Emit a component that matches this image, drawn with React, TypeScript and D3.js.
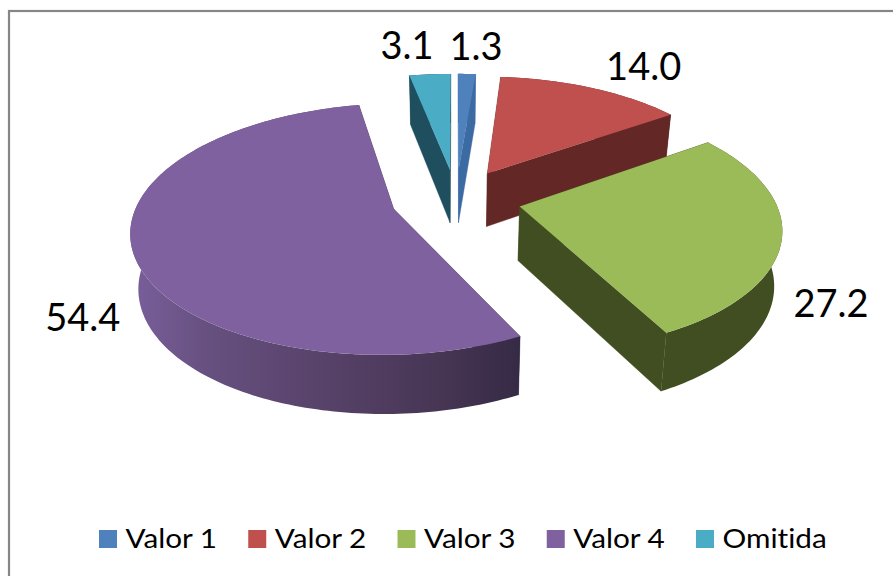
import React from "react";
import * as d3 from "d3";

const categories = ["Valor 1", "Valor 2", "Valor 3", "Valor 4", "Omitida"];
const values = [1.3, 14.0, 27.2, 54.4, 3.1];
const labels = ["1.3", "14.0", "27.2", "54.4", "3.1"];
const topColors = ["#4f81bd", "#c0504d", "#9bbb59", "#7f619f", "#4bacc6"];
const sideColors = ["#3c6aa3", "#632825", "#414e22", "#3f3150", "#1f4f5e"];

const W = 893, H = 576;
const Cx = 456, Cy = 199, Rx = 255, Ty = 119.4, persp = 0.157, depth = 54, depthPersp = 0.08, vanish = 0.025, explode = 0.255;
const FONT = "Lato, 'Open Sans', sans-serif";
const labelOffsets = [[9, -29], [51.5, -23], [49, 65], [-50, 65], [-23, -30]];
const drawOrder = [4, 0, 1, 3, 2];

type Arc = { startAngle: number; endAngle: number };

function project(X: number, Y: number, z: number): [number, number] {
  const s = 1 / (1 + persp * Y);
  const ds = 1 / (1 + depthPersp * Y);
  return [Cx + Rx * X * s * (1 - vanish * z), Cy - Ty * Y * s + depth * ds * z];
}

const pt = (a: Arc, ang: number, r: number, z: number) => {
  const mid = (a.startAngle + a.endAngle) / 2;
  return project(r * Math.sin(ang) + explode * Math.sin(mid), r * Math.cos(ang) + explode * Math.cos(mid), z);
};

const lineGen = d3.line().curve(d3.curveLinear);
const angles = (a: Arc) => {
  const n = Math.max(4, Math.ceil((a.endAngle - a.startAngle) / 0.02));
  return d3.range(n + 1).map((i) => a.startAngle + ((a.endAngle - a.startAngle) * i) / n);
};

const pie = d3.pie<number>().sort(null).value((d) => d);
const arcs = pie(values);

const legendX = d3.scalePoint<string>().domain(categories).range([99, 696]);

export default function App() {
  return (
    <svg width={W} height={H} style={{ position: "absolute", left: 0, top: 0, background: "#fff" }}>
      <defs>
        <linearGradient id="v4wall" gradientUnits="userSpaceOnUse" x1={130} x2={522} y1={0} y2={0}>
          <stop offset="0" stopColor="#7a5f9c" />
          <stop offset="0.2" stopColor="#66507f" />
          <stop offset="0.5" stopColor="#574269" />
          <stop offset="0.8" stopColor="#463553" />
          <stop offset="1" stopColor="#352a45" />
        </linearGradient>
      </defs>
      <rect x={9} y={11} width={W} height={H} fill="#fff" stroke="#868686" strokeWidth={2.2} />
      {drawOrder.map((i) => {
        const a = arcs[i] as unknown as Arc;
        const as = angles(a);
        const top = as.map((t) => pt(a, t, 1, 0));
        const bottom = as.map((t) => pt(a, t, 1, 1));
        const tip0 = pt(a, 0, 0, 0);
        const tip1 = pt(a, 0, 0, 1);
        const wallFill = i === 3 ? "url(#v4wall)" : sideColors[i];
        const first = [tip0, top[0], bottom[0], tip1] as [number, number][];
        const last = [tip0, top[top.length - 1], bottom[bottom.length - 1], tip1] as [number, number][];
        const rim = [...top, ...bottom.slice().reverse()];
        const face = [tip0, ...top];
        return (
          <g key={categories[i]}>
            <path d={lineGen(first) + "Z"} fill={sideColors[i]} stroke={sideColors[i]} strokeWidth={0.4} />
            <path d={lineGen(last) + "Z"} fill={sideColors[i]} stroke={sideColors[i]} strokeWidth={0.4} />
            <path d={lineGen(rim) + "Z"} fill={wallFill} />
            <path d={lineGen(face) + "Z"} fill={topColors[i]} />
          </g>
        );
      })}
      {arcs.map((d, i) => {
        const a = d as unknown as Arc;
        const [x, y] = pt(a, (a.startAngle + a.endAngle) / 2, 1, 0);
        return (
          <text key={labels[i]} x={x + labelOffsets[i][0]} y={y + labelOffsets[i][1]} textAnchor="middle" dominantBaseline="central"
            fontFamily={FONT} fontSize={38} fill="#000">
            {labels[i]}
          </text>
        );
      })}
      {categories.map((c, i) => (
        <g key={c}>
          <rect x={legendX(c)} y={530} width={18} height={18} fill={topColors[i]} />
          <text transform={`translate(${(legendX(c) as number) + 26.5},548) scale(1.1,1)`} fontFamily={FONT} fontSize={27} fill="#000"
            style={{ fontVariantLigatures: "none" }}>{c}</text>
        </g>
      ))}
    </svg>
  );
}
